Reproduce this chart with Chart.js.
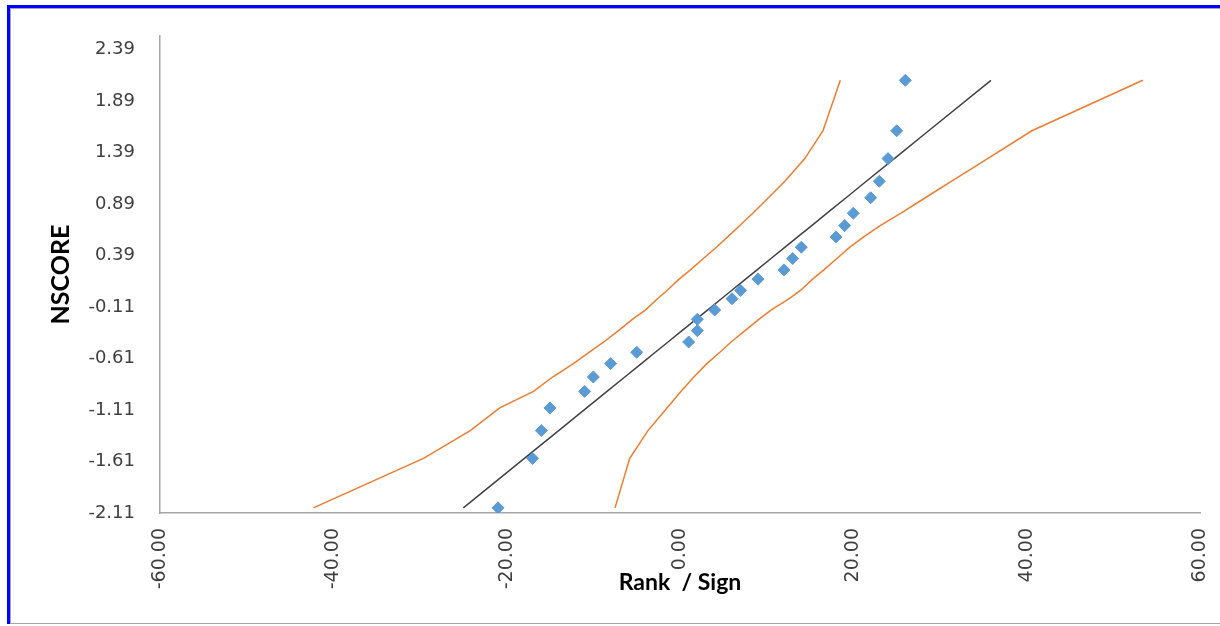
<!DOCTYPE html>
<html>
<head>
<meta charset="utf-8">
<script src="https://cdn.jsdelivr.net/npm/chart.js@4.4.1/dist/chart.umd.min.js"></script>
<style>
  html, body { margin: 0; padding: 0; background: #ffffff; overflow: hidden; }
  #frame {
    position: absolute; left: 7px; top: 5px; width: 1300px; height: 616px;
    border-left: 3px solid #0000ff; border-top: 3px solid #0000ff;
  }
  #inner {
    position: absolute; left: 0; top: 0; width: 1300px; height: 614px;
    border: 1px solid #a6a6a6;
  }
  #chart { position: absolute; left: 0; top: 0; }
</style>
</head>
<body>
<div id="frame"><div id="inner"></div></div>
<canvas id="chart" width="1220" height="626"></canvas>
<script>
// signed ranks and their normal scores
var rankSign = [-21, -17, -16, -15, -11, -10, -8, -5, 1, 2, 2, 4, 6, 7, 9, 12, 13, 14, 18, 19, 20, 22, 23, 24, 25, 26];
var nscore = [-2.06, -1.58, -1.31, -1.09, -0.93, -0.79, -0.66, -0.55, -0.45, -0.34, -0.23, -0.14, -0.03,
              0.05, 0.16, 0.25, 0.36, 0.47, 0.57, 0.68, 0.80, 0.95, 1.11, 1.33, 1.60, 2.09];
// fitted line and confidence band, one x per nscore level
var fitRank = [-25.0, -17.96, -14.0, -10.77, -8.42, -6.37, -4.46, -2.85, -1.38, 0.23, 1.85, 3.17, 4.78,
               5.95, 7.57, 8.89, 10.5, 12.12, 13.58, 15.2, 16.96, 19.16, 21.5, 24.73, 28.69, 35.88];
var bandLeft = [-42.3, -29.6, -24.2, -20.8, -16.9, -14.7, -12.3, -10.5, -8.8, -7.1, -5.5, -4.0, -2.6,
                -1.5, -0.1, 1.2, 2.7, 4.2, 5.5, 6.9, 8.4, 10.2, 12.1, 14.4, 16.5, 18.5];
var bandRight = [-7.5, -5.8, -3.7, -1.5, 0.1, 1.6, 3.1, 4.6, 5.9, 7.5, 9.1, 10.5, 12.6,
                 13.9, 15.3, 16.6, 18.1, 19.6, 21.2, 23.1, 25.5, 28.3, 31.3, 35.5, 40.6, 53.4];
var yTicks = [-2.11, -1.61, -1.11, -0.61, -0.11, 0.39, 0.89, 1.39, 1.89, 2.39];
var xTicks = [-60, -40, -20, 0, 20, 40, 60];

function toXY(xs, ys) {
  return xs.map(function(v, i) { return {x: v, y: ys[i]}; });
}

var axisClr = '#a6a6a6';
var textClr = '#404040';

var ctx = document.getElementById('chart').getContext('2d');
window.myChart = new Chart(ctx, {
  type: 'scatter',
  data: {
    datasets: [
      {
        label: 'NSCORE',
        data: toXY(rankSign, nscore),
        pointStyle: 'rectRot',
        pointRadius: 6,
        pointBackgroundColor: '#5b9bd5',
        pointBorderColor: '#5b9bd5',
        pointBorderWidth: 1
      },
      {
        label: 'Fit',
        data: toXY(fitRank, nscore),
        showLine: true,
        borderColor: '#404040',
        borderWidth: 1.5,
        pointRadius: 0
      },
      {
        label: 'Lower',
        data: toXY(bandLeft, nscore),
        showLine: true,
        borderColor: '#ed7d31',
        borderWidth: 1.5,
        pointRadius: 0
      },
      {
        label: 'Upper',
        data: toXY(bandRight, nscore),
        showLine: true,
        borderColor: '#ed7d31',
        borderWidth: 1.5,
        pointRadius: 0
      }
    ]
  },
  options: {
    responsive: false,
    animation: false,
    devicePixelRatio: 1,
    layout: { padding: { left: 0, right: 20, top: 36, bottom: 0 } },
    plugins: {
      legend: { display: false },
      tooltip: { enabled: false }
    },
    scales: {
      x: {
        type: 'linear',
        min: -60,
        max: 60,
        afterBuildTicks: function(scale) {
          scale.ticks = xTicks.map(function(v) { return {value: v}; });
        },
        afterFit: function(scale) {
          scale.height = 113;
          scale.paddingLeft = 0;
          scale.paddingRight = 0;
        },
        grid: { display: false, drawOnChartArea: false, drawTicks: true, tickLength: 8, tickColor: axisClr },
        border: { display: true, color: axisClr, width: 1.5 },
        ticks: {
          minRotation: 90,
          maxRotation: 90,
          padding: 7,
          color: textClr,
          font: { family: 'DejaVu Sans', size: 19 },
          callback: function(v) { return Number(v).toFixed(2); }
        },
        title: {
          display: true,
          text: 'Rank  / Sign',
          color: '#000000',
          font: { family: 'Lato', weight: 'bold', size: 23 },
          padding: { top: 0, bottom: 30 }
        }
      },
      y: {
        type: 'linear',
        min: -2.11,
        max: 2.52,
        afterBuildTicks: function(scale) {
          scale.ticks = yTicks.map(function(v) { return {value: v}; });
        },
        afterFit: function(scale) { scale.width = 160; },
        grid: { display: false, drawOnChartArea: false, drawTicks: true, tickLength: 10, tickColor: axisClr },
        border: { display: true, color: axisClr, width: 1.5 },
        ticks: {
          padding: 15,
          color: textClr,
          font: { family: 'DejaVu Sans', size: 18 },
          callback: function(v) { return Number(v).toFixed(2); }
        },
        title: {
          display: true,
          text: 'NSCORE',
          color: '#000000',
          font: { family: 'Lato', weight: 'bold', size: 25 },
          padding: { top: 46, bottom: 0 }
        }
      }
    }
  }
});
</script>
</body>
</html>
